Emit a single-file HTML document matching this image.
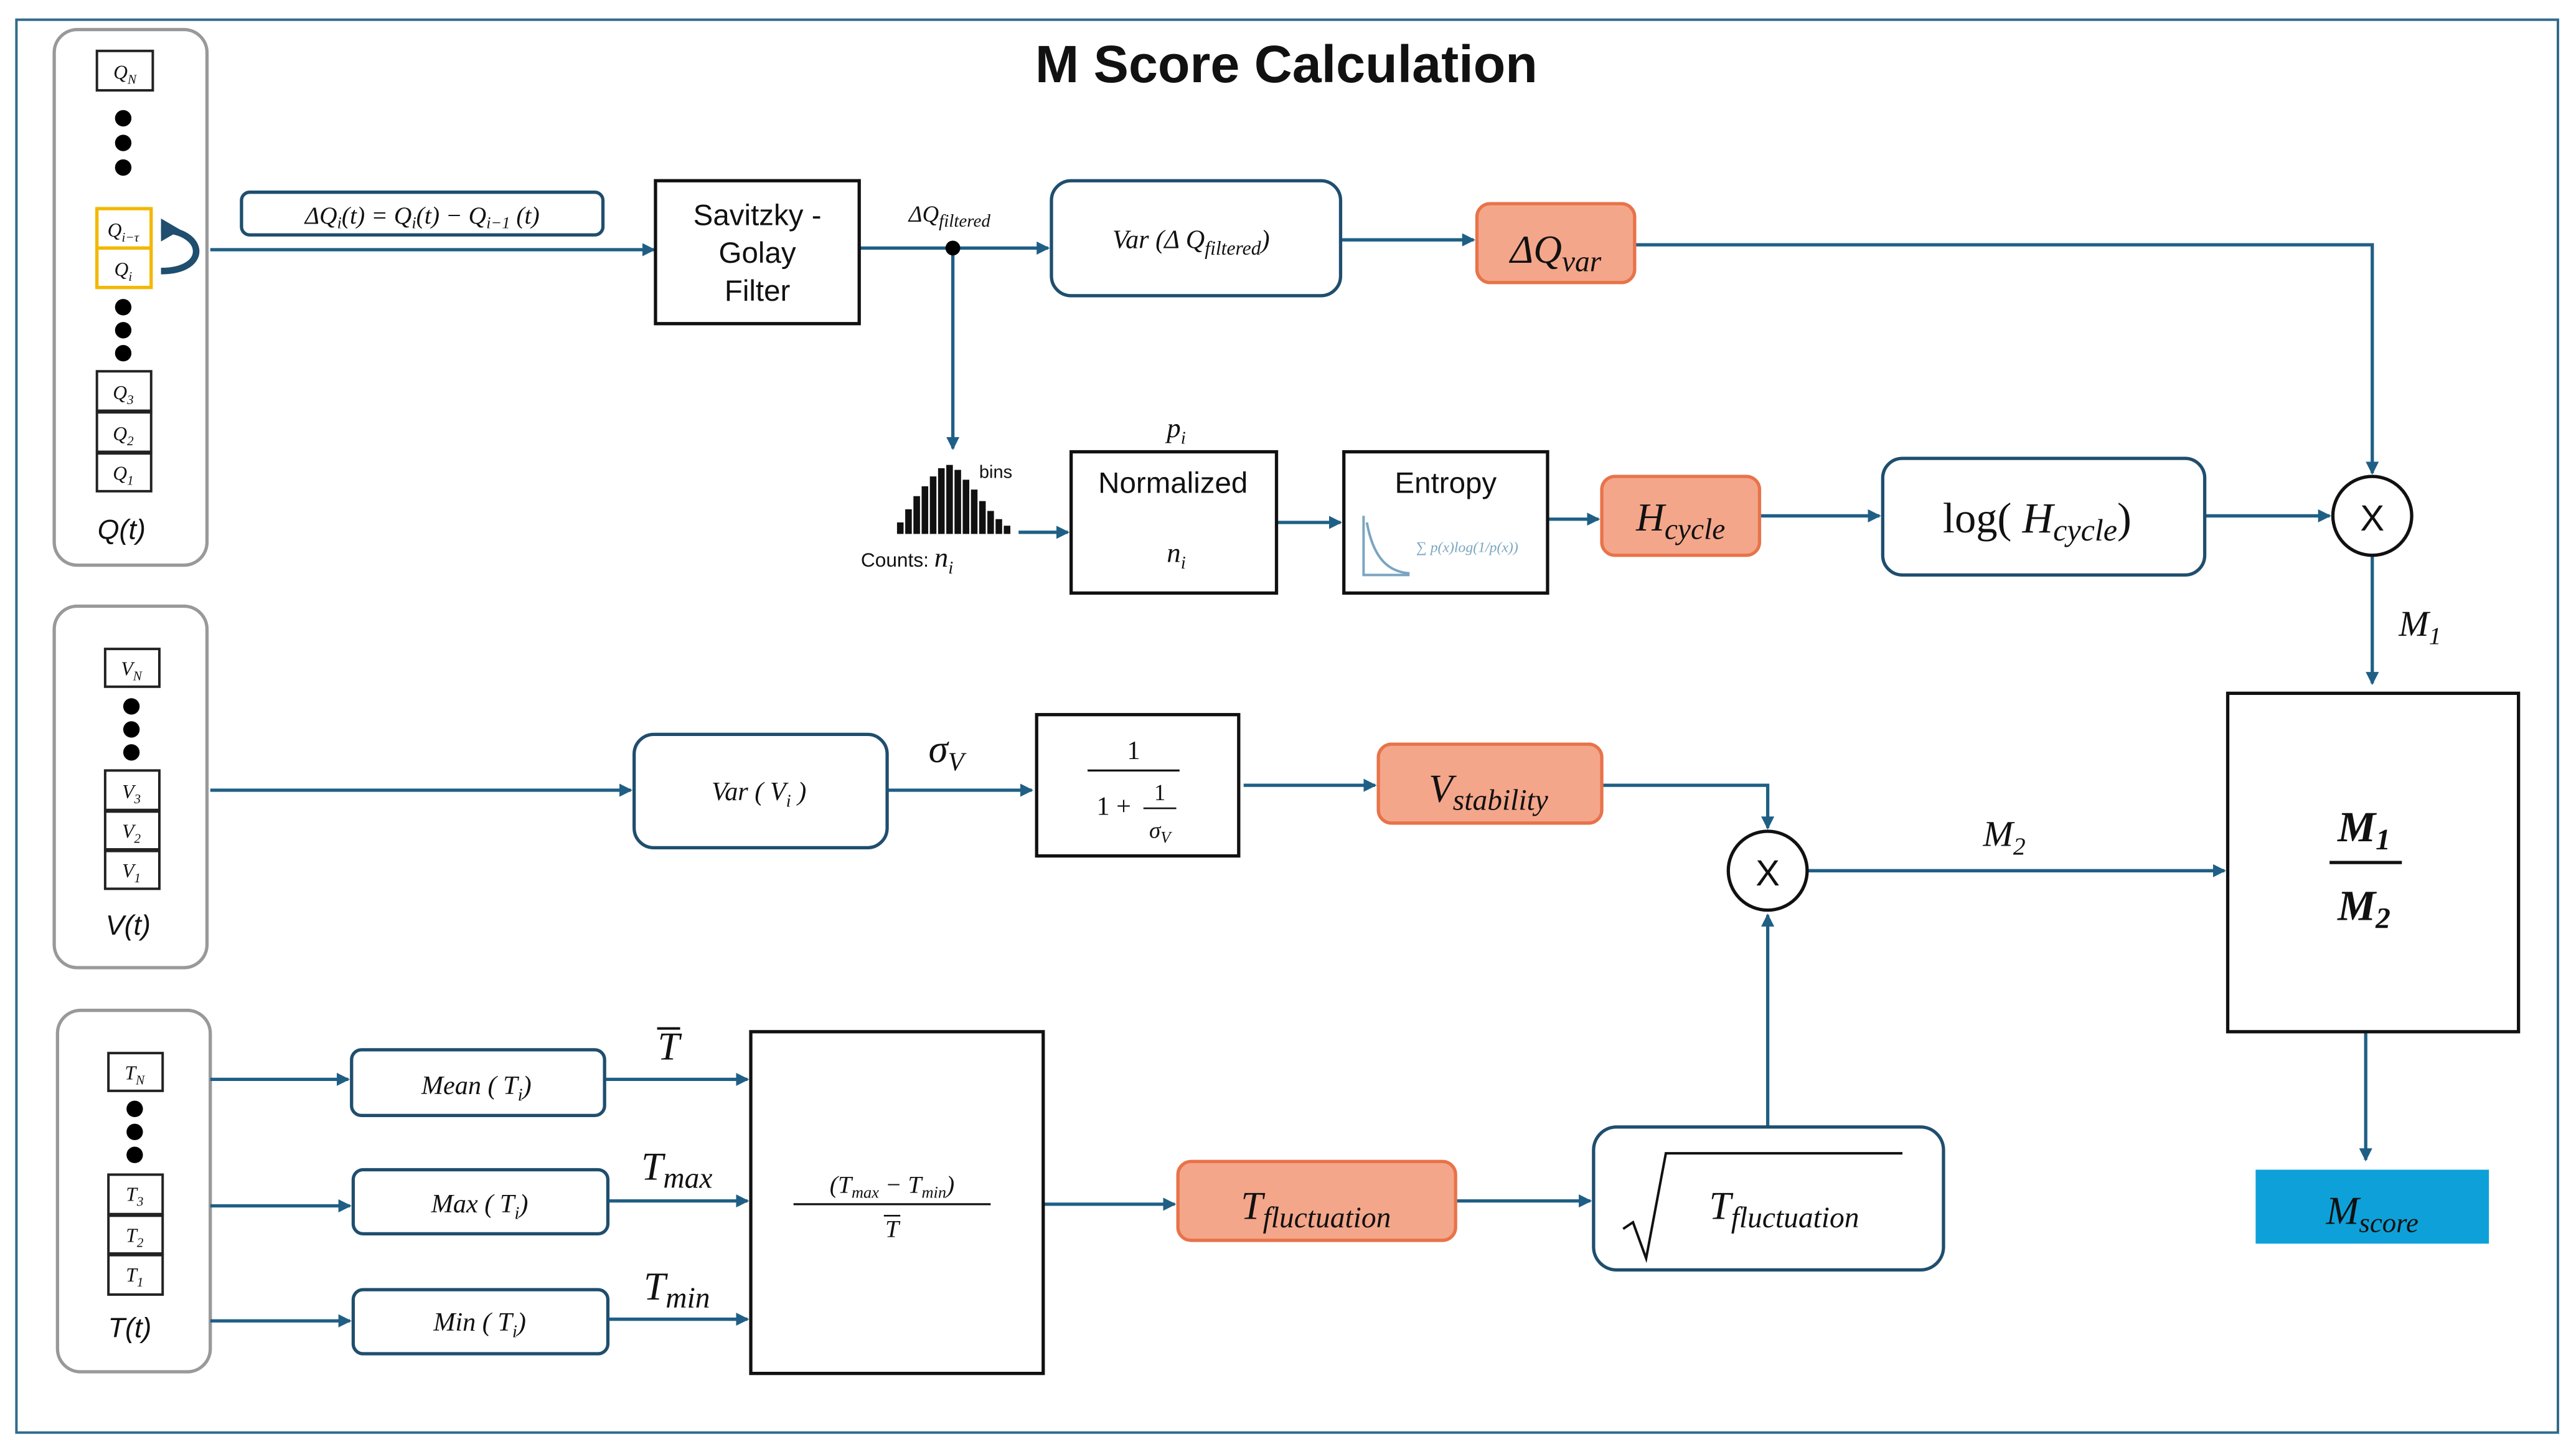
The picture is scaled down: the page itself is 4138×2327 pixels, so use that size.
<!DOCTYPE html>
<html><head><meta charset="utf-8"><style>
html,body{margin:0;padding:0;background:#fff;}
svg{display:block;}
.m{font-family:"Liberation Serif",serif;font-style:italic;}
.s{font-family:"Liberation Sans",sans-serif;}
</style></head><body>
<svg width="4138" height="2327" viewBox="0 0 1568 882" preserveAspectRatio="none" xmlns="http://www.w3.org/2000/svg">
<defs>
<marker id="a" markerWidth="8" markerHeight="8" refX="7" refY="4" orient="auto" markerUnits="userSpaceOnUse"><path d="M0,0 L8,4 L0,8 Z" fill="#1f5f85"/></marker>
</defs>
<rect x="0" y="0" width="1568" height="882" fill="#fff"/>
<rect x="10" y="12" width="1547" height="860" fill="none" stroke="#2e6b8a" stroke-width="1.5"/>
<text x="783" y="50" text-anchor="middle" class="s" font-size="32" font-weight="bold" fill="#111">M Score Calculation</text>

<g fill="none" stroke="#999" stroke-width="2">
<rect x="33" y="18" width="93" height="326" rx="14"/>
<rect x="33" y="369" width="93" height="220" rx="14"/>
<rect x="35" y="615" width="93" height="220" rx="14"/>
</g>
<g fill="#fff" stroke="#222" stroke-width="1.5">
<rect x="59" y="31" width="34" height="24"/>
<rect x="59" y="226" width="33" height="24"/><rect x="59" y="251" width="33" height="24"/><rect x="59" y="276" width="33" height="23"/>
<rect x="64" y="395" width="33" height="23"/>
<rect x="64" y="469" width="33" height="24"/><rect x="64" y="494" width="33" height="23"/><rect x="64" y="518" width="33" height="23"/>
<rect x="66" y="641" width="33" height="23"/>
<rect x="66" y="715" width="33" height="24"/><rect x="66" y="740" width="33" height="23"/><rect x="66" y="764" width="33" height="24"/>
</g>
<g fill="#fff" stroke="#f2b800" stroke-width="2">
<rect x="59" y="127" width="33" height="24"/><rect x="59" y="151" width="33" height="24"/>
</g>
<g fill="#000">
<circle cx="75" cy="72" r="5"/><circle cx="75" cy="87" r="5"/><circle cx="75" cy="102" r="5"/>
<circle cx="75" cy="187" r="5"/><circle cx="75" cy="201" r="5"/><circle cx="75" cy="215" r="5"/>
<circle cx="80" cy="430" r="5"/><circle cx="80" cy="444" r="5"/><circle cx="80" cy="458" r="5"/>
<circle cx="82" cy="675" r="5"/><circle cx="82" cy="689" r="5"/><circle cx="82" cy="703" r="5"/>
</g>
<g class="m" font-size="12" fill="#111" text-anchor="middle">
<text x="76" y="48">Q<tspan font-size="8" dy="3">N</tspan></text>
<text x="75" y="144">Q<tspan font-size="8" dy="3">i−τ</tspan></text>
<text x="75" y="168">Q<tspan font-size="8" dy="3">i</tspan></text>
<text x="75" y="243">Q<tspan font-size="8" dy="3">3</tspan></text>
<text x="75" y="268">Q<tspan font-size="8" dy="3">2</tspan></text>
<text x="75" y="292">Q<tspan font-size="8" dy="3">1</tspan></text>
<text x="80" y="411">V<tspan font-size="8" dy="3">N</tspan></text>
<text x="80" y="486">V<tspan font-size="8" dy="3">3</tspan></text>
<text x="80" y="510">V<tspan font-size="8" dy="3">2</tspan></text>
<text x="80" y="534">V<tspan font-size="8" dy="3">1</tspan></text>
<text x="82" y="657">T<tspan font-size="8" dy="3">N</tspan></text>
<text x="82" y="731">T<tspan font-size="8" dy="3">3</tspan></text>
<text x="82" y="756">T<tspan font-size="8" dy="3">2</tspan></text>
<text x="82" y="780">T<tspan font-size="8" dy="3">1</tspan></text>
</g>
<g class="s" font-size="17" font-style="italic" fill="#111" text-anchor="middle">
<text x="74" y="328">Q(t)</text><text x="78" y="569">V(t)</text><text x="79" y="814">T(t)</text>
</g>
<path d="M98,140 C125,140 128,165 98,165" fill="none" stroke="#1f4e6e" stroke-width="4"/>
<path d="M98,133 L110,140 L98,147 Z" fill="#1f4e6e"/>

<g stroke="#1f5f85" stroke-width="2" fill="none">
<line x1="128" y1="152" x2="398" y2="152" marker-end="url(#a)"/>
<line x1="523" y1="151" x2="638" y2="151" marker-end="url(#a)"/>
<line x1="580" y1="151" x2="580" y2="273" marker-end="url(#a)"/>
<line x1="816" y1="146" x2="897" y2="146" marker-end="url(#a)"/>
<polyline points="995,149 1444,149 1444,288" marker-end="url(#a)"/>
<line x1="620" y1="324" x2="650" y2="324" marker-end="url(#a)"/>
<line x1="777" y1="318" x2="816" y2="318" marker-end="url(#a)"/>
<line x1="942" y1="316" x2="973" y2="316" marker-end="url(#a)"/>
<line x1="1071" y1="314" x2="1144" y2="314" marker-end="url(#a)"/>
<line x1="1342" y1="314" x2="1418" y2="314" marker-end="url(#a)"/>
<line x1="1444" y1="338" x2="1444" y2="416" marker-end="url(#a)"/>
<line x1="1440" y1="628" x2="1440" y2="706" marker-end="url(#a)"/>
<line x1="128" y1="481" x2="384" y2="481" marker-end="url(#a)"/>
<line x1="540" y1="481" x2="628" y2="481" marker-end="url(#a)"/>
<line x1="757" y1="478" x2="837" y2="478" marker-end="url(#a)"/>
<polyline points="975,478 1076,478 1076,504" marker-end="url(#a)"/>
<line x1="1100" y1="530" x2="1354" y2="530" marker-end="url(#a)"/>
<line x1="128" y1="657" x2="212" y2="657" marker-end="url(#a)"/>
<line x1="368" y1="657" x2="455" y2="657" marker-end="url(#a)"/>
<line x1="128" y1="734" x2="213" y2="734" marker-end="url(#a)"/>
<line x1="370" y1="731" x2="455" y2="731" marker-end="url(#a)"/>
<line x1="128" y1="804" x2="213" y2="804" marker-end="url(#a)"/>
<line x1="370" y1="803" x2="455" y2="803" marker-end="url(#a)"/>
<line x1="635" y1="733" x2="715" y2="733" marker-end="url(#a)"/>
<line x1="886" y1="731" x2="968" y2="731" marker-end="url(#a)"/>
<line x1="1076" y1="686" x2="1076" y2="557" marker-end="url(#a)"/>
</g>
<circle cx="580" cy="151" r="4.5" fill="#000"/>

<g fill="#fff" stroke="#1f4e6e" stroke-width="2">
<rect x="147" y="117" width="220" height="26" rx="5"/>
<rect x="640" y="110" width="176" height="70" rx="12"/>
<rect x="1146" y="279" width="196" height="71" rx="12"/>
<rect x="386" y="447" width="154" height="69" rx="12"/>
<rect x="214" y="639" width="154" height="40" rx="6"/>
<rect x="215" y="712" width="155" height="39" rx="6"/>
<rect x="215" y="785" width="155" height="39" rx="6"/>
<rect x="970" y="686" width="213" height="87" rx="14"/>
</g>
<g fill="#fff" stroke="#111" stroke-width="2">
<rect x="399" y="110" width="124" height="87"/>
<rect x="652" y="275" width="125" height="86"/>
<rect x="818" y="275" width="124" height="86"/>
<rect x="631" y="435" width="123" height="86"/>
<rect x="457" y="628" width="178" height="208"/>
<rect x="1356" y="422" width="177" height="206"/>
<circle cx="1444" cy="314" r="24"/>
<circle cx="1076" cy="530" r="24"/>
</g>
<g fill="#f4a68a" stroke="#e8734a" stroke-width="2">
<rect x="899" y="124" width="96" height="48" rx="8"/>
<rect x="975" y="290" width="96" height="48" rx="8"/>
<rect x="839" y="453" width="136" height="48" rx="8"/>
<rect x="717" y="707" width="169" height="48" rx="8"/>
</g>
<rect x="1373" y="712" width="142" height="45" fill="#0ea0d8"/>

<g class="s" font-size="18" fill="#111" text-anchor="middle">
<text x="461" y="137">Savitzky -</text><text x="461" y="160">Golay</text><text x="461" y="183">Filter</text>
<text x="714" y="300">Normalized</text>
<text x="880" y="300">Entropy</text>
<text x="1444" y="323" font-size="22">X</text>
<text x="1076" y="539" font-size="22">X</text>
</g>
<g fill="#111">
<rect x="546" y="318" width="4" height="7"/><rect x="551" y="310" width="4" height="15"/><rect x="556" y="302" width="4" height="23"/><rect x="561" y="296" width="4" height="29"/><rect x="566" y="290" width="4" height="35"/><rect x="571" y="285" width="4" height="40"/><rect x="576" y="283" width="4" height="42"/><rect x="581" y="286" width="4" height="39"/><rect x="586" y="292" width="4" height="33"/><rect x="591" y="298" width="4" height="27"/><rect x="596" y="305" width="4" height="20"/><rect x="601" y="311" width="4" height="14"/><rect x="606" y="316" width="4" height="9"/><rect x="611" y="320" width="4" height="5"/>
</g>
<text x="596" y="291" class="s" font-size="11" fill="#111">bins</text>
<text x="524" y="345" class="s" font-size="12" fill="#111">Counts: <tspan class="m" font-size="17">n<tspan font-size="11" dy="4">i</tspan></tspan></text>
<path d="M830,314 L830,350 L858,350 M832,318 C836,340 845,348 858,349" fill="none" stroke="#7aa5c0" stroke-width="1.5"/>
<text x="862" y="336" class="m" font-size="9" fill="#7aa5c0">∑ p(x)log(1/p(x))</text>

<g class="m" fill="#111" text-anchor="middle">
<text x="257" y="136" font-size="15">ΔQ<tspan font-size="10" dy="3">i</tspan><tspan dy="-3">(t) = Q</tspan><tspan font-size="10" dy="3">i</tspan><tspan dy="-3">(t) − Q</tspan><tspan font-size="10" dy="3">i−1</tspan><tspan dy="-3"> (t)</tspan></text>
<text x="578" y="135" font-size="14">ΔQ<tspan font-size="11" dy="3">filtered</tspan></text>
<text x="725" y="151" font-size="16">Var (Δ Q<tspan font-size="12" dy="4">filtered</tspan><tspan dy="-4">)</tspan></text>
<text x="947" y="160" font-size="24">ΔQ<tspan font-size="18" dy="5">var</tspan></text>
<text x="716" y="266" font-size="17">p<tspan font-size="11" dy="4">i</tspan></text>
<text x="716" y="342" font-size="17">n<tspan font-size="11" dy="4">i</tspan></text>
<text x="1023" y="323" font-size="24">H<tspan font-size="18" dy="5">cycle</tspan></text>
<text x="1240" y="324" font-size="26" font-style="normal">log( <tspan font-style="italic">H</tspan><tspan font-style="italic" font-size="19" dy="5">cycle</tspan><tspan dy="-5">)</tspan></text>
<text x="1473" y="387" font-size="22">M<tspan font-size="15" dy="5">1</tspan></text>
<text x="1220" y="515" font-size="22">M<tspan font-size="15" dy="5">2</tspan></text>
<text x="1439" y="512" font-size="26" font-weight="bold">M<tspan font-size="18" dy="5">1</tspan></text>
<line x1="1418" y1="525" x2="1462" y2="525" stroke="#111" stroke-width="2"/>
<text x="1439" y="560" font-size="26" font-weight="bold">M<tspan font-size="18" dy="5">2</tspan></text>
<text x="1444" y="745" font-size="24">M<tspan font-size="17" dy="5">score</tspan></text>
<text x="462" y="487" font-size="16">Var ( V<tspan font-size="11" dy="4">i</tspan><tspan dy="-4"> )</tspan></text>
<text x="576" y="464" font-size="24">σ<tspan font-size="16" dy="5">V</tspan></text>
<text x="690" y="462" font-size="16" font-style="normal">1</text>
<line x1="662" y1="469" x2="718" y2="469" stroke="#111" stroke-width="1.2"/>
<text x="678" y="496" font-size="16" font-style="normal">1 +</text>
<text x="706" y="487" font-size="14" font-style="normal">1</text>
<line x1="696" y1="492" x2="716" y2="492" stroke="#111" stroke-width="1"/>
<text x="706" y="510" font-size="14">σ<tspan font-size="10" dy="3">V</tspan></text>
<text x="906" y="488" font-size="24">V<tspan font-size="18" dy="5">stability</tspan></text>
<text x="290" y="666" font-size="16">Mean ( T<tspan font-size="11" dy="4">i</tspan><tspan dy="-4">)</tspan></text>
<text x="292" y="738" font-size="16">Max ( T<tspan font-size="11" dy="4">i</tspan><tspan dy="-4">)</tspan></text>
<text x="292" y="810" font-size="16">Min ( T<tspan font-size="11" dy="4">i</tspan><tspan dy="-4">)</tspan></text>
<text x="407" y="645" font-size="24">T</text>
<line x1="400" y1="626" x2="414" y2="626" stroke="#111" stroke-width="1.5"/>
<text x="412" y="718" font-size="24">T<tspan font-size="18" dy="5">max</tspan></text>
<text x="412" y="791" font-size="24">T<tspan font-size="18" dy="5">min</tspan></text>
<text x="543" y="726" font-size="15">(T<tspan font-size="10" dy="3">max</tspan><tspan dy="-3"> − T</tspan><tspan font-size="10" dy="3">min</tspan><tspan dy="-3">)</tspan></text>
<line x1="483" y1="733" x2="603" y2="733" stroke="#111" stroke-width="1.2"/>
<text x="543" y="753" font-size="15">T</text>
<line x1="538" y1="740" x2="548" y2="740" stroke="#111" stroke-width="1"/>
<text x="801" y="742" font-size="24">T<tspan font-size="18" dy="5">fluctuation</tspan></text>
<text x="1086" y="742" font-size="24">T<tspan font-size="18" dy="5">fluctuation</tspan></text>
</g>
<path d="M988,748 L994,744 L1002,766 L1014,702 L1158,702" fill="none" stroke="#111" stroke-width="1.5"/>
</svg>
</body></html>
